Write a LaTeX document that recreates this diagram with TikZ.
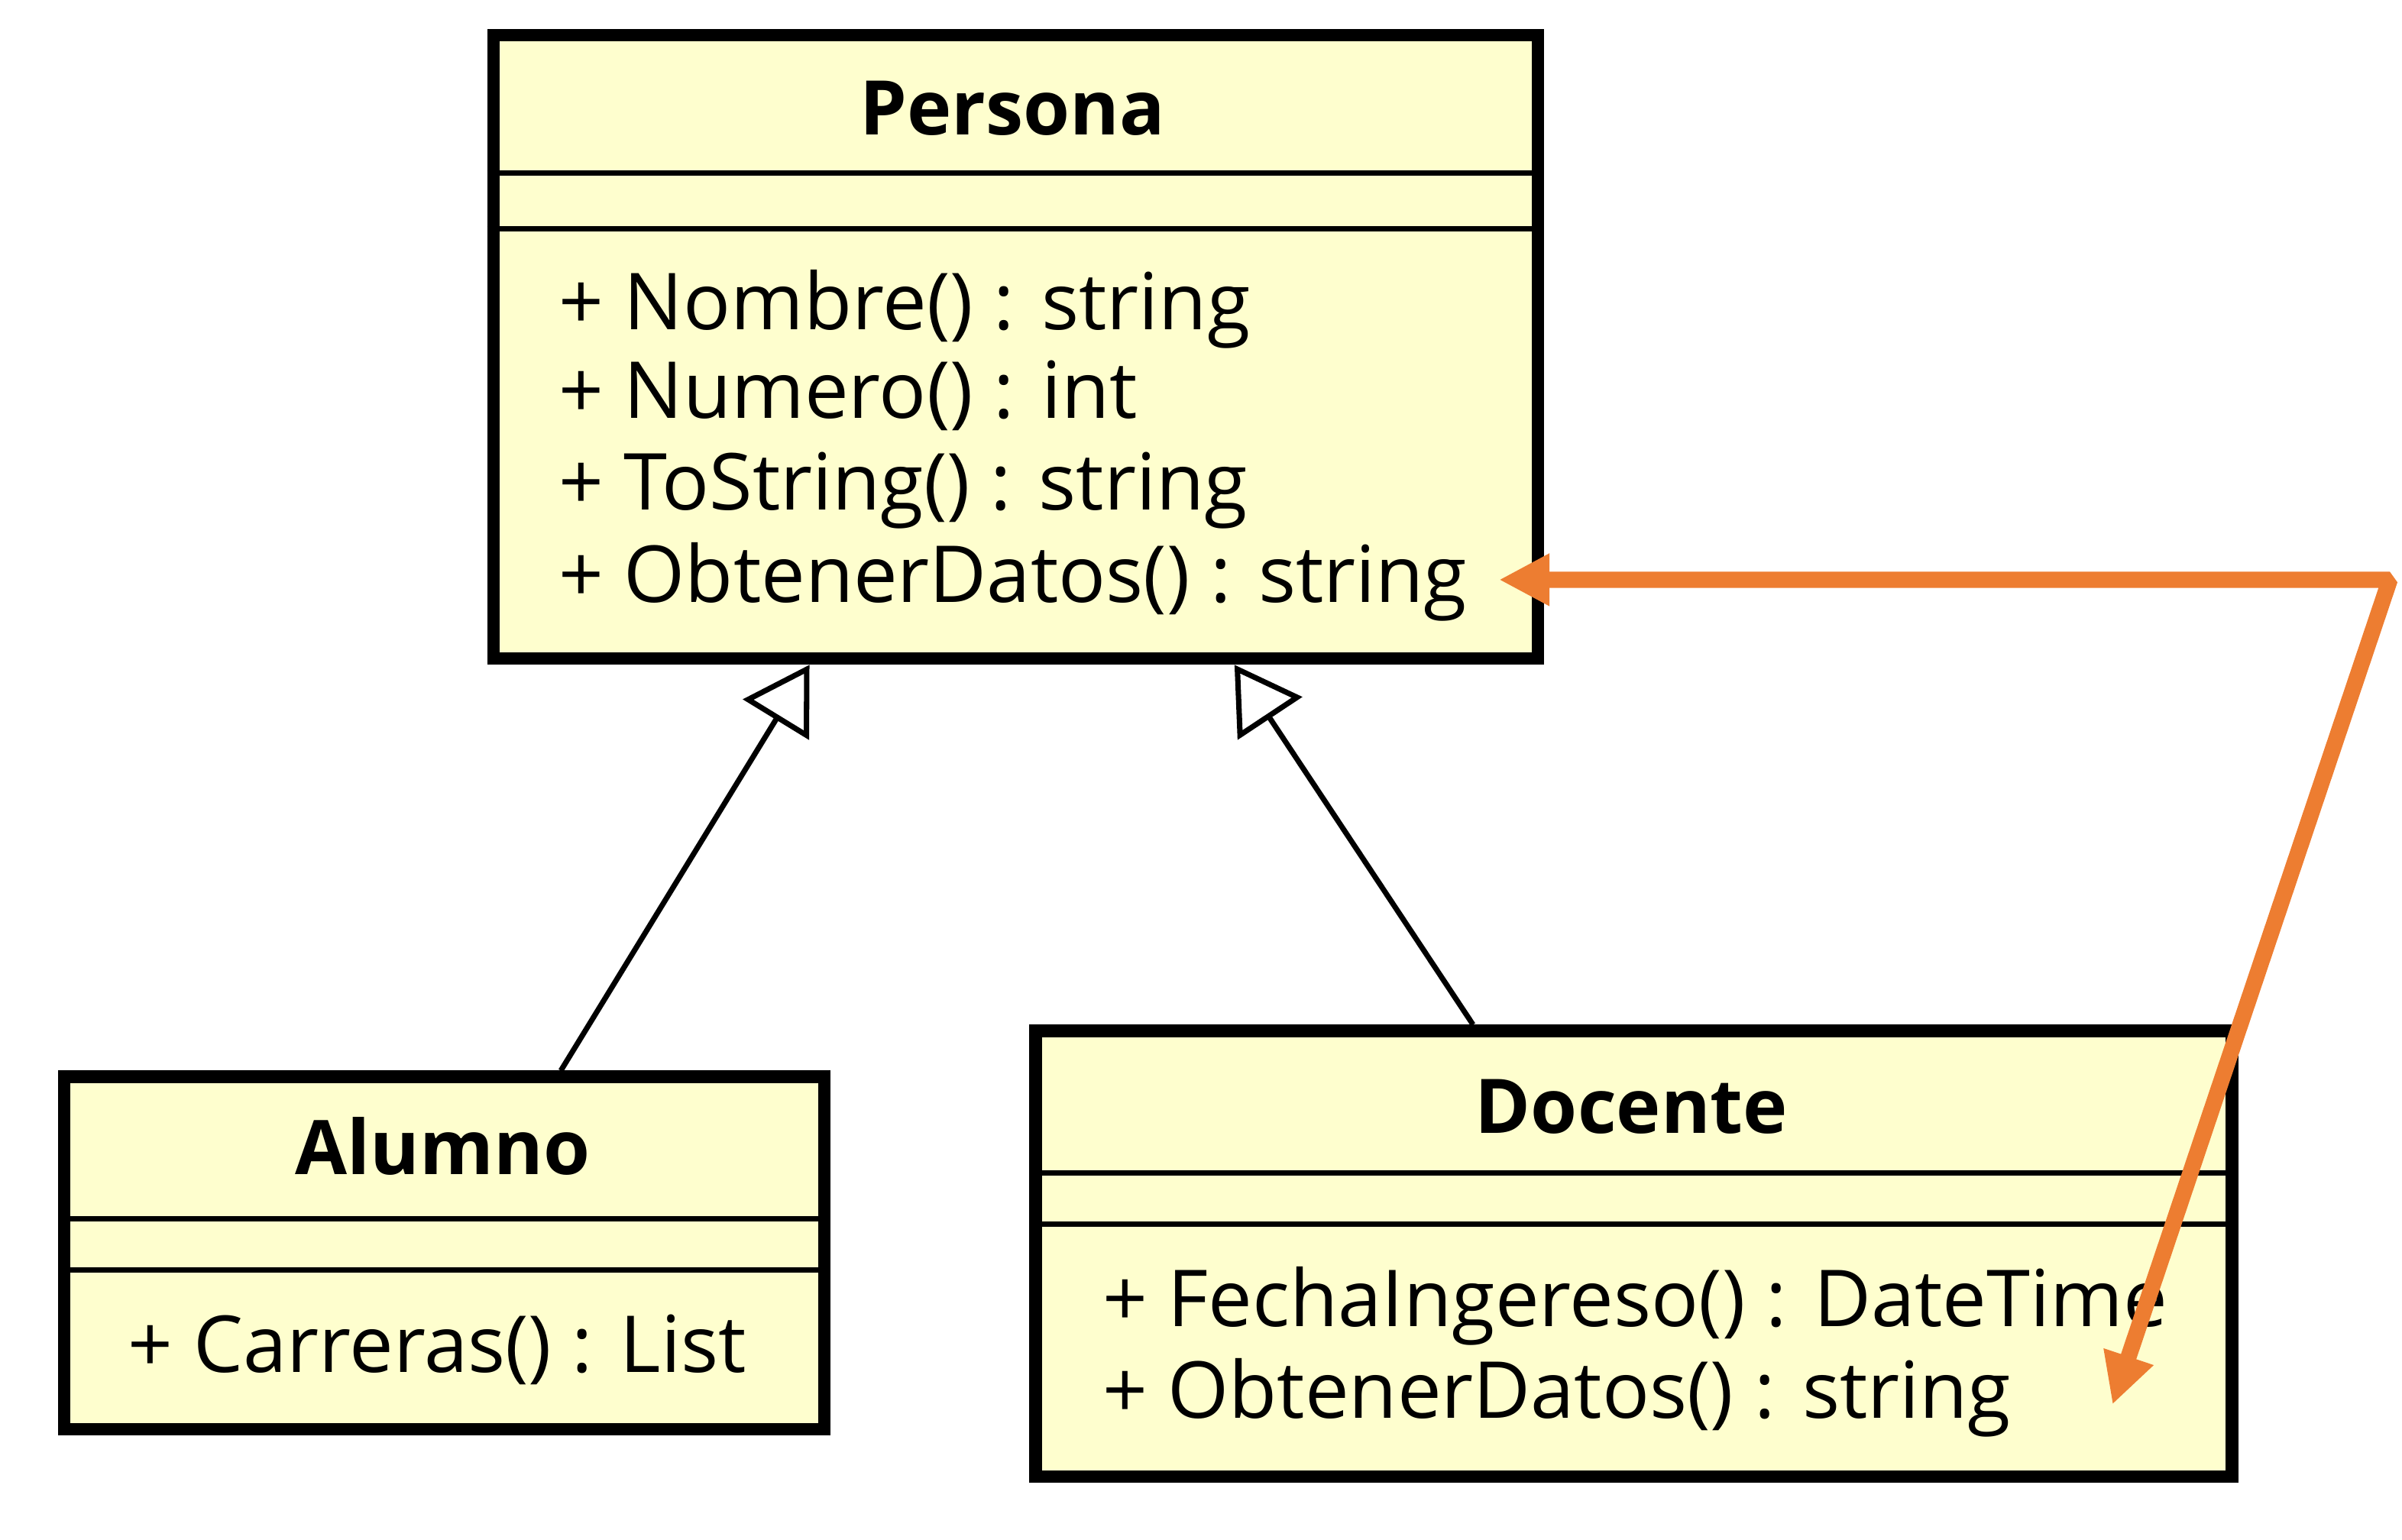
\documentclass[tikz,border=0pt]{standalone}
\usepackage{fontspec}
\setmainfont{Open Sans}
\usepackage{xcolor}
\definecolor{umlfill}{HTML}{FEFECE}
\definecolor{umlorange}{HTML}{ED7D31}
\usetikzlibrary{arrows.meta,positioning,calc}

\begin{document}
\begin{tikzpicture}[>=Latex]
\tikzset{
 cls/.style={draw=black,line width=2.3pt,fill=umlfill,inner sep=0pt},
 ttl/.style={font=\fontsize{14}{17}\selectfont\bfseries,anchor=base,inner sep=0pt},
 mth/.style={font=\fontsize{14.6}{17}\selectfont,anchor=base west,inner sep=0pt},
 sep/.style={line width=1pt},
 gen/.style={-{Triangle[open,length=.42cm,width=.5cm]},line width=1pt},
 link/.style={{Triangle[length=.33cm,width=.32cm]}-{Triangle[length=.33cm,width=.32cm]},draw=umlorange,line width=3pt,line join=bevel}
}
\useasboundingbox (0,0) rectangle (15.68,-10.05);

\node[cls,minimum width=6.82cm,minimum height=4.07cm] (persona) at (6.63,-2.265) {};
\node[cls,minimum width=4.96cm,minimum height=2.30cm] (alumno) at (2.90,-8.18) {};
\node[cls,minimum width=7.81cm,minimum height=2.91cm] (docente) at (10.665,-8.185) {};

\draw[sep] (persona.west |- 0,-1.13) -- (persona.east |- 0,-1.13);
\draw[sep] (persona.west |- 0,-1.496) -- (persona.east |- 0,-1.496);
\draw[sep] (alumno.west |- 0,-7.956) -- (alumno.east |- 0,-7.956);
\draw[sep] (alumno.west |- 0,-8.29) -- (alumno.east |- 0,-8.29);
\draw[sep] (docente.west |- 0,-7.66) -- (docente.east |- 0,-7.66);
\draw[sep] (docente.west |- 0,-7.99) -- (docente.east |- 0,-7.99);

\node[ttl] (ptitle) at (6.61,-0.88) {Persona};
\node[ttl] (atitle) at (2.89,-7.67) {Alumno};
\node[ttl] (dtitle) at (10.65,-7.40) {Docente};

\node[mth] (pm1) at (3.64,-2.15) {+ Nombre() : string};
\node[mth] (pm2) at (3.64,-2.73) {+ Numero() : int};
\node[mth] (pm3) at (3.64,-3.33) {+ ToString() : string};
\node[mth] (pm4) at (3.64,-3.93) {+ ObtenerDatos() : string};
\node[mth] (am1) at (0.83,-8.96) {+ Carreras() : List};
\node[mth] (dm1) at (7.19,-8.66) {+ FechaIngereso() : DateTime};
\node[mth] (dm2) at (7.19,-9.26) {+ ObtenerDatos() : string};

\draw[gen] ($(alumno.north west)!.651!(alumno.north east)$) -- ($(persona.south west)!.305!(persona.south east)$);
\draw[gen] ($(docente.north west)!.367!(docente.north east)$) -- ($(persona.south west)!.707!(persona.south east)$);

\coordinate (pk) at (9.785,-3.785);
\coordinate (bend) at (15.60,-3.785);
\coordinate (dk) at (13.79,-9.17);
\draw[link] (pk) -- (bend) -- (dk);
\end{tikzpicture}
\end{document}
